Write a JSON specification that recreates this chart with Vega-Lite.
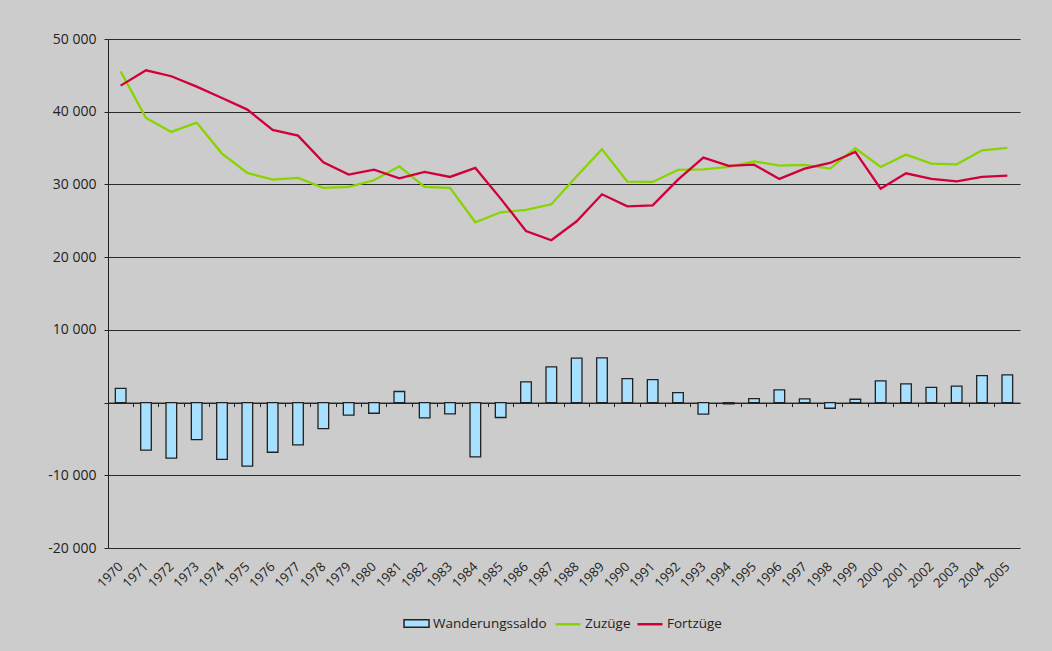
{
  "$schema": "https://vega.github.io/schema/vega-lite/v6.json",
  "width": 912,
  "height": 509,
  "autosize": {"type": "none"},
  "padding": {"left": 108, "top": 39, "right": 32, "bottom": 103},
  "background": "#cccccc",
  "config": {
    "view": {"stroke": null},
    "font": "Open Sans",
    "legend": {"labelFont": "Open Sans", "labelFontSize": 13.5, "labelColor": "#222222"},
    "axisY": {
      "labelFont": "Open Sans", "labelFontSize": 14, "labelColor": "#222222",
      "labelPadding": 8, "tickSize": 4, "tickColor": "#222222",
      "domainColor": "#222222", "grid": true, "gridColor": "#2a2a2a", "gridWidth": 1, "gridOpacity": 1
    }
  },
  "data": {
    "values": [
      {"year": "1970", "saldo": 1950, "Zuzüge": 45550, "Fortzüge": 43590},
      {"year": "1971", "saldo": -6550, "Zuzüge": 39140, "Fortzüge": 45700},
      {"year": "1972", "saldo": -7650, "Zuzüge": 37220, "Fortzüge": 44880},
      {"year": "1973", "saldo": -5100, "Zuzüge": 38500, "Fortzüge": 43450},
      {"year": "1974", "saldo": -7800, "Zuzüge": 34240, "Fortzüge": 41890},
      {"year": "1975", "saldo": -8750, "Zuzüge": 31580, "Fortzüge": 40290},
      {"year": "1976", "saldo": -6830, "Zuzüge": 30660, "Fortzüge": 37490},
      {"year": "1977", "saldo": -5820, "Zuzüge": 30890, "Fortzüge": 36710},
      {"year": "1978", "saldo": -3570, "Zuzüge": 29520, "Fortzüge": 33050},
      {"year": "1979", "saldo": -1740, "Zuzüge": 29650, "Fortzüge": 31350},
      {"year": "1980", "saldo": -1470, "Zuzüge": 30570, "Fortzüge": 32040},
      {"year": "1981", "saldo": 1520, "Zuzüge": 32490, "Fortzüge": 30850},
      {"year": "1982", "saldo": -2100, "Zuzüge": 29650, "Fortzüge": 31720},
      {"year": "1983", "saldo": -1550, "Zuzüge": 29520, "Fortzüge": 31030},
      {"year": "1984", "saldo": -7470, "Zuzüge": 24800, "Fortzüge": 32270},
      {"year": "1985", "saldo": -2050, "Zuzüge": 26170, "Fortzüge": 28050},
      {"year": "1986", "saldo": 2850, "Zuzüge": 26490, "Fortzüge": 23600},
      {"year": "1987", "saldo": 4900, "Zuzüge": 27270, "Fortzüge": 22320},
      {"year": "1988", "saldo": 6100, "Zuzüge": 31120, "Fortzüge": 24930},
      {"year": "1989", "saldo": 6150, "Zuzüge": 34830, "Fortzüge": 28640},
      {"year": "1990", "saldo": 3300, "Zuzüge": 30390, "Fortzüge": 26990},
      {"year": "1991", "saldo": 3160, "Zuzüge": 30340, "Fortzüge": 27130},
      {"year": "1992", "saldo": 1380, "Zuzüge": 31990, "Fortzüge": 30660},
      {"year": "1993", "saldo": -1600, "Zuzüge": 32080, "Fortzüge": 33690},
      {"year": "1994", "saldo": -180, "Zuzüge": 32400, "Fortzüge": 32540},
      {"year": "1995", "saldo": 550, "Zuzüge": 33180, "Fortzüge": 32720},
      {"year": "1996", "saldo": 1750, "Zuzüge": 32590, "Fortzüge": 30760},
      {"year": "1997", "saldo": 500, "Zuzüge": 32680, "Fortzüge": 32170},
      {"year": "1998", "saldo": -780, "Zuzüge": 32170, "Fortzüge": 32950},
      {"year": "1999", "saldo": 460, "Zuzüge": 34970, "Fortzüge": 34470},
      {"year": "2000", "saldo": 2980, "Zuzüge": 32400, "Fortzüge": 29420},
      {"year": "2001", "saldo": 2570, "Zuzüge": 34100, "Fortzüge": 31530},
      {"year": "2002", "saldo": 2100, "Zuzüge": 32860, "Fortzüge": 30760},
      {"year": "2003", "saldo": 2250, "Zuzüge": 32770, "Fortzüge": 30430},
      {"year": "2004", "saldo": 3710, "Zuzüge": 34690, "Fortzüge": 31030},
      {"year": "2005", "saldo": 3800, "Zuzüge": 35020, "Fortzüge": 31210}
    ]
  },
  "layer": [
    {
      "mark": {"type": "bar", "width": {"band": 0.42}, "stroke": "#222222", "strokeWidth": 1.3},
      "encoding": {
        "x": {
          "field": "year", "type": "ordinal", "sort": "ascending",
          "scale": {"paddingInner": 0, "paddingOuter": 0},
          "axis": {
            "orient": "bottom", "offset": -145.43, "labels": false, "title": null,
            "domain": true, "domainColor": "#222222", "domainWidth": 1,
            "ticks": true, "tickColor": "#222222", "tickSize": 4, "tickWidth": 1,
            "bandPosition": 0, "grid": false
          }
        },
        "y": {
          "field": "saldo", "type": "quantitative",
          "scale": {"domain": [-20000, 50000], "nice": false, "zero": false},
          "axis": {
            "title": null,
            "values": [-20000, -10000, 0, 10000, 20000, 30000, 40000, 50000],
            "labelExpr": "datum.value == 0 ? '' : (datum.value < 0 ? '-' : '') + replace(format(abs(datum.value), ','), ',', ' ')"
          }
        },
        "fill": {
          "datum": "Wanderungssaldo",
          "scale": {"domain": ["Wanderungssaldo"], "range": ["#a8e0ff"]},
          "legend": {
            "orient": "none", "legendX": 295, "legendY": 571, "title": null,
            "symbolType": "M-1,-0.3H1V0.3H-1Z", "symbolSize": 625,
            "symbolStrokeColor": "#222222", "symbolStrokeWidth": 1.5, "symbolOpacity": 1, "labelOffset": 3
          }
        }
      }
    },
    {
      "transform": [{"fold": ["Zuzüge", "Fortzüge"], "as": ["serie", "wert"]}],
      "mark": {"type": "line", "strokeWidth": 2.3},
      "encoding": {
        "x": {
          "field": "year", "type": "ordinal", "sort": "ascending",
          "axis": {
            "orient": "bottom", "title": null, "labelAngle": -45, "domain": false, "ticks": false,
            "grid": false, "labelFont": "Open Sans", "labelFontSize": 13, "labelColor": "#222222",
            "labelPadding": 12, "labelOffset": -4
          }
        },
        "y": {
          "field": "wert", "type": "quantitative",
          "axis": {
            "title": null,
            "values": [-20000, -10000, 0, 10000, 20000, 30000, 40000, 50000],
            "labelExpr": "datum.value == 0 ? '' : (datum.value < 0 ? '-' : '') + replace(format(abs(datum.value), ','), ',', ' ')"
          }
        },
        "stroke": {
          "field": "serie", "type": "nominal",
          "scale": {"domain": ["Zuzüge", "Fortzüge"], "range": ["#88d400", "#d0003a"]},
          "legend": {
            "orient": "none", "legendX": 446, "legendY": 571, "title": null, "direction": "horizontal",
            "symbolType": "stroke", "symbolSize": 625, "symbolStrokeWidth": 2.5, "columnPadding": 1, "labelOffset": 3
          }
        }
      }
    }
  ],
  "resolve": {"axis": {"x": "independent"}}
}
